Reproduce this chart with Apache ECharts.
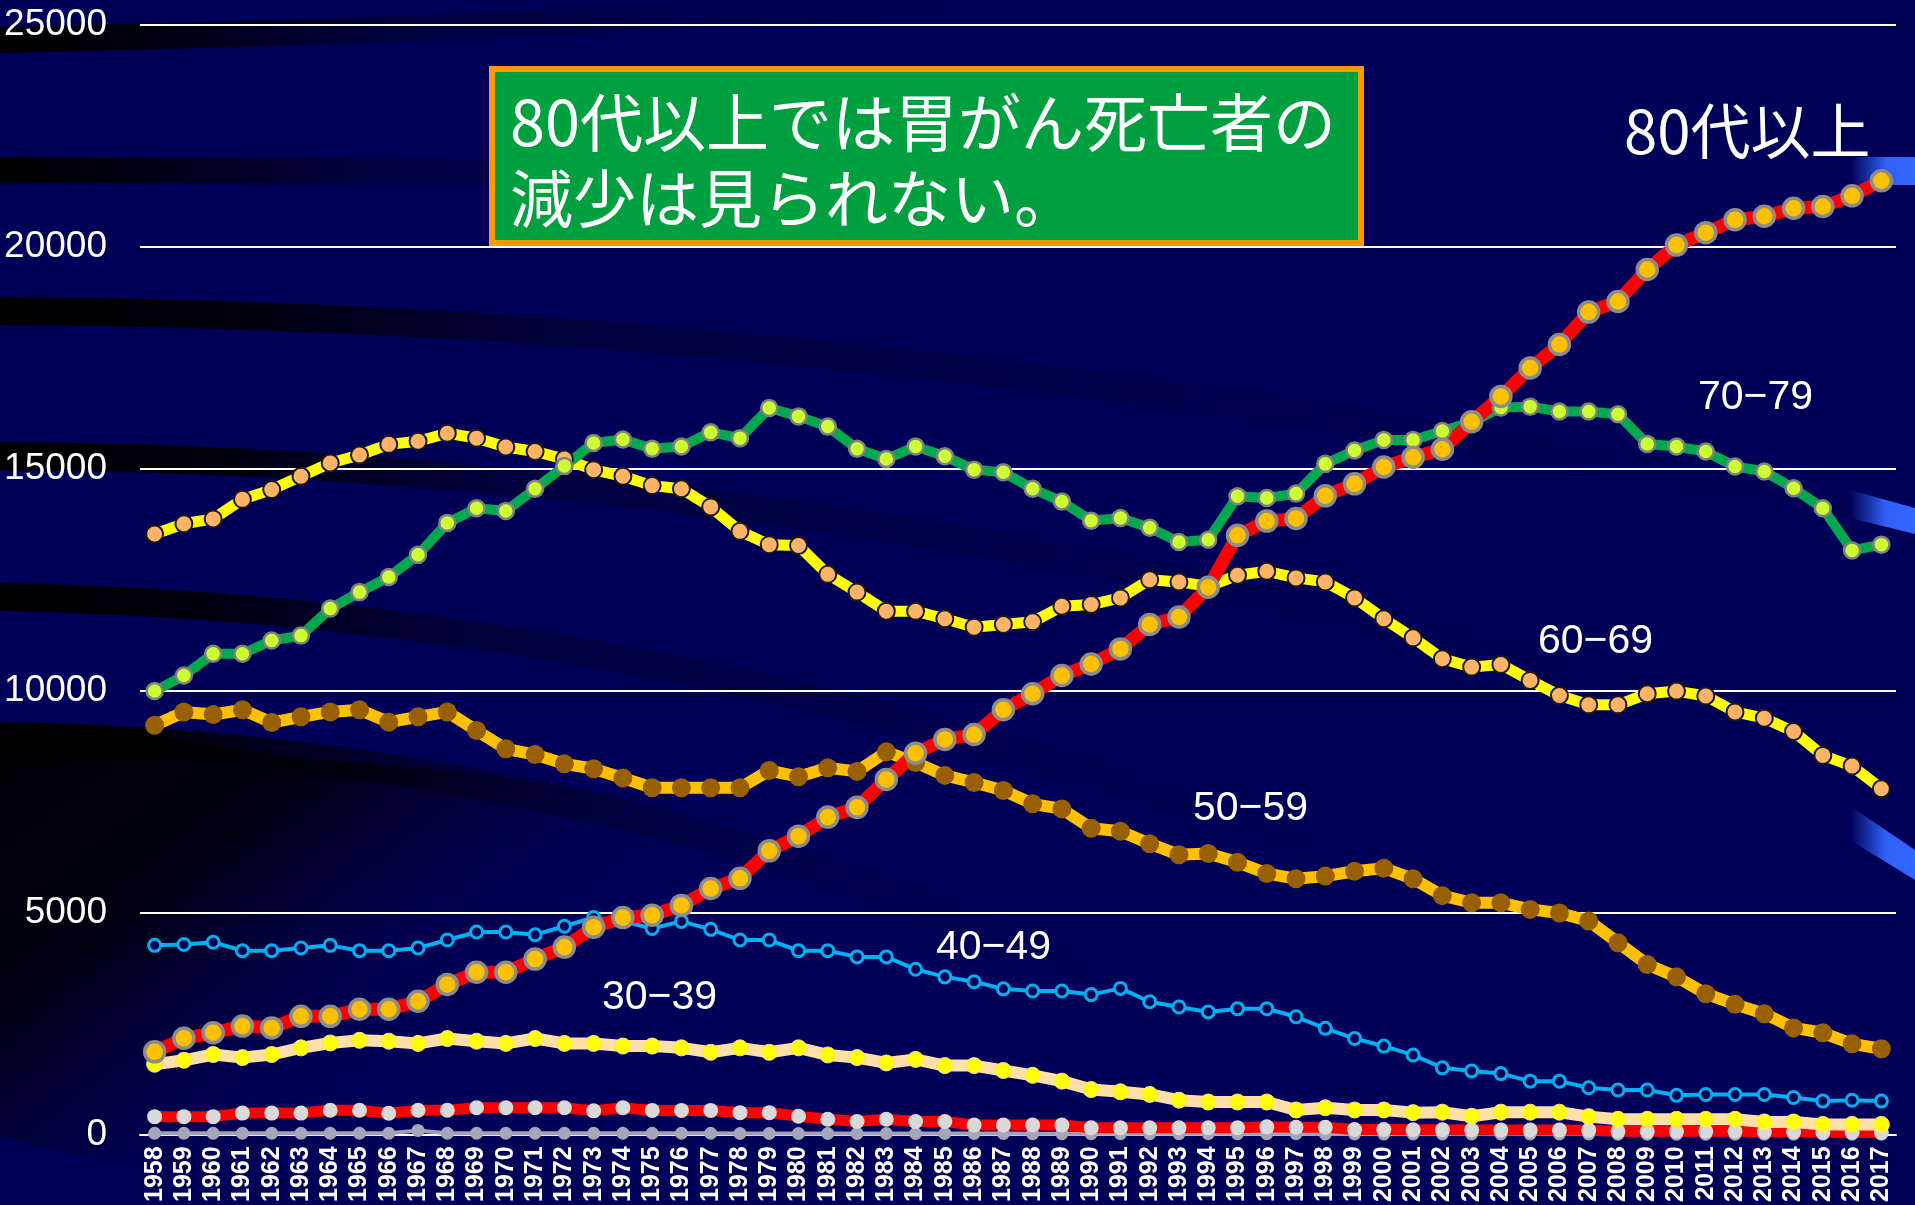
<!DOCTYPE html>
<html><head><meta charset="utf-8">
<script src="https://cdn.jsdelivr.net/npm/echarts@6/dist/echarts.min.js"></script>
<style>html,body{margin:0;padding:0;background:#000058;} #c{width:1915px;height:1205px;}</style>
</head><body><div id="c"></div>
<script>
const years = ['1958','1959','1960','1961','1962','1963','1964','1965','1966','1967',
'1968','1969','1970','1971','1972','1973','1974','1975','1976','1977',
'1978','1979','1980','1981','1982','1983','1984','1985','1986','1987',
'1988','1989','1990','1991','1992','1993','1994','1995','1996','1997',
'1998','1999','2000','2001','2002','2003','2004','2005','2006','2007',
'2008','2009','2010','2011','2012','2013','2014','2015','2016','2017'];

const age80 = [1860,2165,2290,2440,2400,2660,2660,2820,2820,3000,
3380,3655,3655,3950,4220,4670,4885,4940,5160,5540,
5770,6390,6720,7150,7370,8000,8590,8900,9010,9570,
9930,10340,10600,10940,11490,11660,12330,13500,13820,13880,
14390,14660,15040,15260,15440,16060,16630,17270,17800,18530,
18770,19490,20040,20320,20610,20690,20870,20910,21150,21490];

const age70 = [9990,10340,10830,10830,11130,11240,11850,12220,12560,13060,
13780,14110,14050,14550,15060,15580,15660,15450,15500,15820,
15690,16370,16180,15950,15450,15220,15500,15280,14980,14920,
14550,14260,13830,13890,13670,13350,13400,14380,14340,14440,
15110,15410,15650,15650,15850,16050,16380,16400,16290,16290,
16230,15560,15500,15390,15050,14940,14560,14110,13160,13290];

const age60 = [13530,13760,13870,14310,14530,14830,15130,15310,15550,15620,
15800,15690,15490,15390,15220,14980,14830,14620,14550,14140,
13590,13290,13270,12620,12220,11790,11790,11620,11430,11490,
11550,11900,11940,12090,12500,12450,12350,12600,12690,12540,
12450,12090,11620,11190,10720,10530,10590,10230,9890,9680,
9680,9930,9990,9880,9520,9380,9080,8540,8300,7790];

const age50 = [9220,9520,9460,9570,9280,9410,9520,9570,9290,9410,
9520,9100,8690,8560,8350,8240,8030,7810,7810,7810,
7810,8200,8060,8260,8180,8620,8380,8090,7930,7750,
7450,7335,6900,6830,6550,6300,6330,6130,5880,5760,
5820,5930,6000,5760,5380,5220,5220,5070,4990,4810,
4320,3830,3550,3170,2930,2720,2400,2290,2040,1930];

const age40 = [4260,4280,4330,4140,4140,4200,4260,4140,4140,4200,
4380,4560,4560,4500,4690,4890,4800,4640,4800,4620,
4380,4380,4140,4140,4000,4000,3720,3550,3440,3280,
3230,3230,3150,3290,2990,2870,2760,2830,2830,2650,
2390,2160,1990,1790,1500,1430,1370,1200,1200,1050,
1000,1000,880,900,900,900,830,750,770,750];

const age30 = [1580,1670,1800,1730,1800,1950,2060,2120,2100,2050,
2160,2100,2050,2160,2050,2050,1990,1990,1950,1850,
1950,1850,1950,1790,1730,1610,1690,1550,1550,1440,
1330,1200,1010,960,900,770,730,730,730,550,
600,550,550,490,500,410,500,500,500,400,
340,340,340,340,340,280,280,225,225,225];

const age20 = [400,400,400,480,480,480,545,545,475,545,
545,600,600,600,600,530,600,540,540,540,
490,490,410,340,290,340,290,290,210,210,
210,210,150,150,150,150,150,150,170,160,
160,110,110,105,105,100,100,100,100,95,
70,70,70,70,70,60,60,50,50,45];

const ageU20 = [25,25,25,25,25,25,25,25,25,90,
25,25,25,25,25,25,25,25,25,25,
20,20,20,20,20,20,20,20,20,20,
15,15,15,15,15,15,15,15,15,15,
10,10,10,10,10,10,10,10,10,10,
5,5,5,5,5,5,5,5,5,5];

const yTicks = [0, 5000, 10000, 15000, 20000, 25000];
const noteLines = ['80代以上では胃がん死亡者の', '減少は見られない。'];
const ageLabels = ['80代以上', '70−79', '60−69', '50−59', '40−49', '30−39'];

function mk(name, data, lineColor, lineWidth, fill, size, bColor, bWidth) {
  return {
    name: name, type: 'line', data: data, symbol: 'circle', symbolSize: size,
    showSymbol: true, silent: true, animation: false,
    lineStyle: { color: lineColor, width: lineWidth, cap: 'round', join: 'round' },
    itemStyle: { color: fill, borderColor: bColor || fill, borderWidth: bWidth || 0 },
    emphasis: { disabled: true }
  };
}

function fade(mid) {
  return { type: 'linear', x: 0, y: 0, x2: 1, y2: 0,
    colorStops: [{ offset: 0, color: 'rgba(0,0,0,1)' }, { offset: 0.12, color: 'rgba(0,0,0,0.9)' }, { offset: mid, color: 'rgba(0,0,10,0.35)' }, { offset: 1, color: 'rgba(0,0,40,0)' }] };
}
function swoosh(x1, y1, cx, cy, x2, y2, w, mid) {
  return { type: 'bezierCurve', z: -5, silent: true,
    shape: { x1: x1, y1: y1, cpx1: cx, cpy1: cy, x2: x2, y2: y2 },
    style: { stroke: fade(mid || 0.45), lineWidth: w, fill: null } };
}
function blueBar(pts) {
  return { type: 'polygon', z: -4, silent: true, shape: { points: pts },
    style: { fill: { type: 'linear', x: 0, y: 0, x2: 1, y2: 0,
      colorStops: [{ offset: 0, color: 'rgba(51,102,255,0)' }, { offset: 0.55, color: 'rgba(51,102,255,0.95)' }, { offset: 1, color: '#3366FF' }] } } };
}
function label(text, x, y, size, family) {
  return { type: 'text', z: 80, silent: true, x: x, y: y,
    style: { text: text, fill: '#ffffff', font: size + 'px ' + family, verticalAlign: 'middle' } };
}

const chart = echarts.init(document.getElementById('c'), null, { renderer: 'canvas' });
chart.setOption({
  animation: false,
  backgroundColor: '#000058',
  grid: { left: 140, right: 19, top: 25, bottom: 70, containLabel: false },
  xAxis: {
    type: 'category', data: years, boundaryGap: true,
    axisLine: { show: true, lineStyle: { color: '#ffffff', width: 2 } },
    axisTick: { show: false },
    axisLabel: { interval: 0, rotate: 90, color: '#ffffff', fontSize: 25, fontWeight: 'bold', fontFamily: 'Liberation Sans', margin: 12 },
    splitLine: { show: false }
  },
  yAxis: {
    type: 'value', min: yTicks[0], max: yTicks[yTicks.length - 1], interval: 5000,
    axisLine: { show: false }, axisTick: { show: false },
    axisLabel: { color: '#ffffff', fontSize: 37, fontFamily: 'Liberation Sans', margin: 33,
      formatter: function (v) { return String(v); } },
    splitLine: { show: true, lineStyle: { color: '#ffffff', width: 2 } }
  },
  graphic: [
    swoosh(0, 40, 500, 30, 1000, 0, 26, 0.4),
    swoosh(0, 170, 350, 170, 720, 172, 26, 0.5),
    swoosh(0, 311, 900, 315, 1900, 520, 28, 0.3),
    swoosh(0, 456, 800, 460, 1700, 700, 28, 0.3),
    swoosh(0, 597, 700, 610, 1400, 880, 28, 0.35),
    swoosh(0, 737, 600, 745, 1150, 1000, 30, 0.45),
    { type: 'polygon', z: -6, silent: true,
      shape: { points: [[0, 748], [300, 758], [640, 800], [880, 890], [1040, 1010], [1120, 1135], [0, 1135]], smooth: 0.3 },
      style: { fill: { type: 'linear', x: 0, y: 0, x2: 0.3, y2: 1,
        colorStops: [{ offset: 0, color: 'rgba(0,0,0,1)' }, { offset: 0.45, color: 'rgba(0,0,6,0.85)' }, { offset: 1, color: 'rgba(0,0,88,0)' }] } } },
    blueBar([[1851, 157], [1915, 157], [1915, 185], [1851, 185]]),
    blueBar([[1850, 490], [1915, 508], [1915, 534], [1850, 518]]),
    blueBar([[1850, 806], [1915, 850], [1915, 880], [1850, 840]]),
    { type: 'rect', z: 60, silent: true,
      shape: { x: 492, y: 69, width: 869, height: 174 },
      style: { fill: '#00A040', stroke: '#FF9900', lineWidth: 6 } },
    label(noteLines[0], 510, 122, 63, '"Noto Sans CJK JP"'),
    label(noteLines[1], 510, 198, 63, '"Noto Sans CJK JP"'),
    label(ageLabels[0], 1624, 131, 60, '"Noto Sans CJK JP"'),
    label(ageLabels[1], 1698, 398, 41, '"Liberation Sans"'),
    label(ageLabels[2], 1538, 642, 41, '"Liberation Sans"'),
    label(ageLabels[3], 1193, 809, 41, '"Liberation Sans"'),
    label(ageLabels[4], 936, 948, 41, '"Liberation Sans"'),
    label(ageLabels[5], 602, 998, 41, '"Liberation Sans"')
  ],
  series: [
    mk('10-19', ageU20, '#A0A0B4', 4, '#A6A6BA', 13),
    mk('20-29', age20, '#FF0000', 11, '#D9D9D9', 15),
    mk('30-39', age30, '#FFE0A8', 12, '#FFFF00', 16, '#FFD8A0', 1),
    mk('40-49', age40, '#00B0F0', 4, '#000050', 12, '#00B0F0', 3),
    mk('50-59', age50, '#FFC000', 12, '#996000', 19),
    mk('60-69', age60, '#FFFF00', 11, '#FFB366', 17, '#1a1a1a', 2),
    mk('70-79', age70, '#00A84F', 10, '#CCFF33', 16, '#808080', 2.5),
    mk('80+', age80, '#FF0000', 13, '#FFC000', 20, '#8C8C8C', 3.5)
  ]
});
</script></body></html>
